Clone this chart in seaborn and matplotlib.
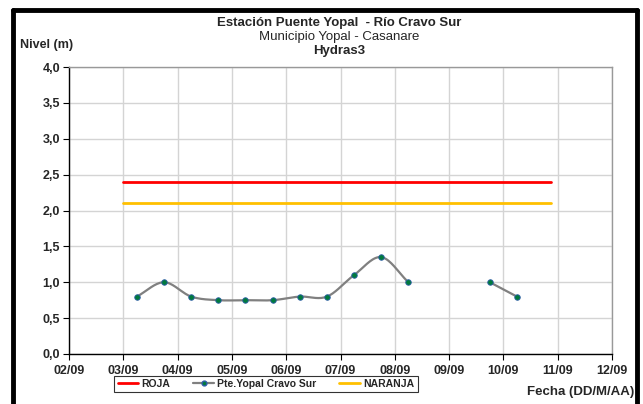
import numpy as np
import pandas as pd
import matplotlib
matplotlib.use("Agg")
import matplotlib.pyplot as plt
from matplotlib.lines import Line2D
import seaborn as sns

# Datos (Sep, dia.fraccion)
fechas = ["03/09 06:00", "03/09 18:00", "04/09 06:00", "04/09 18:00",
          "05/09 06:00", "05/09 18:00", "06/09 06:00", "06/09 18:00",
          "07/09 06:00", "07/09 18:00", "08/09 06:00", "08/09 18:00",
          "09/09 06:00", "09/09 18:00", "10/09 06:00"]
nivel = [0.80, 1.00, 0.80, 0.75, 0.75, 0.75, 0.80, 0.80,
         1.10, 1.35, 1.00, np.nan, np.nan, 1.00, 0.80]

umbral_fechas = ["03/09 00:00", "10/09 21:00"]
roja = [2.40, 2.40]
naranja = [2.10, 2.10]

xticks_lbl = ["02/09", "03/09", "04/09", "05/09", "06/09", "07/09",
              "08/09", "09/09", "10/09", "11/09", "12/09"]


def a_dias(s):
    d, h = s.split(" ")
    hh, mm = h.split(":")
    return int(d.split("/")[0]) + (int(hh) + int(mm) / 60) / 24


def suavizar(x, y, n=20):
    # curva suavizada tipo Excel (Catmull-Rom)
    x = np.asarray(x)
    y = np.asarray(y)
    if len(x) < 3:
        return x, y
    px = np.concatenate([[2 * x[0] - x[1]], x, [2 * x[-1] - x[-2]]])
    py = np.concatenate([[2 * y[0] - y[1]], y, [2 * y[-1] - y[-2]]])
    ox, oy = [], []
    t = np.linspace(0, 1, n)
    for i in range(1, len(px) - 2):
        for arr, out in ((px, ox), (py, oy)):
            p0, p1, p2, p3 = arr[i - 1], arr[i], arr[i + 1], arr[i + 2]
            out.extend(0.5 * ((2 * p1) + (-p0 + p2) * t
                              + (2 * p0 - 5 * p1 + 4 * p2 - p3) * t ** 2
                              + (-p0 + 3 * p1 - 3 * p2 + p3) * t ** 3))
    return np.array(ox), np.array(oy)


df = pd.DataFrame({"dia": [a_dias(f) for f in fechas], "nivel": nivel})
df_u = pd.DataFrame({"dia": [a_dias(f) for f in umbral_fechas],
                     "roja": roja, "naranja": naranja})

sns.set_style("white")
plt.rcParams["font.family"] = ["Liberation Sans", "DejaVu Sans"]

fig = plt.figure(figsize=(6.43, 4.04), dpi=100)
ax = fig.add_axes([69 / 643, 1 - 354 / 404, (612 - 69) / 643, (354 - 67) / 404])

# umbrales
sns.lineplot(data=df_u, x="dia", y="roja", ax=ax, color="#ff0000", lw=2, zorder=3)
sns.lineplot(data=df_u, x="dia", y="naranja", ax=ax, color="#ffc000", lw=2, zorder=3)

# serie de nivel (suavizada por tramos)
grupo = df["nivel"].isna().cumsum()
for _, tramo in df.dropna().groupby(grupo[df["nivel"].notna()]):
    sx, sy = suavizar(tramo["dia"].values, tramo["nivel"].values)
    ax.plot(sx, sy, color="#808080", lw=1.6, zorder=4)
sns.scatterplot(data=df.dropna(), x="dia", y="nivel", ax=ax, color="#007a3d",
                edgecolor="#2f5fa8", linewidth=0.6, s=16, zorder=5)

ax.set_xlim(2, 12)
ax.set_ylim(0, 4)
ax.set_xticks(range(2, 13))
ax.set_xticklabels(xticks_lbl)
ax.set_yticks(np.arange(0, 4.01, 0.5))
ax.set_yticklabels([f"{v:.1f}".replace(".", ",") for v in np.arange(0, 4.01, 0.5)])
for lbl in ax.get_xticklabels() + ax.get_yticklabels():
    lbl.set_fontweight("bold")
    lbl.set_fontsize(9)
ax.tick_params(axis="both", direction="out", length=4, width=0.8, color="black",
               bottom=True, left=True, pad=2.5)
ax.tick_params(axis="x", pad=4)
ax.grid(True, color="#d4d4d4", lw=1)
ax.set_axisbelow(True)
ax.set_xlabel("")
ax.set_ylabel("")
for s in ["top", "right"]:
    ax.spines[s].set_color("#999999")
    ax.spines[s].set_linewidth(1)
for s in ["left", "bottom"]:
    ax.spines[s].set_color("black")
    ax.spines[s].set_linewidth(1)

# titulos
fig.text(339 / 643, 1 - 23 / 404, "Estación Puente Yopal  - Río Cravo Sur",
         ha="center", va="center", fontsize=9.5, fontweight="bold")
fig.text(339 / 643, 1 - 37 / 404, "Municipio Yopal - Casanare",
         ha="center", va="center", fontsize=9.5)
fig.text(339 / 643, 1 - 51 / 404, "Hydras3",
         ha="center", va="center", fontsize=9.5, fontweight="bold")
fig.text(20 / 643, 1 - 45 / 404, "Nivel (m)", ha="left", va="center",
         fontsize=9, fontweight="bold")
fig.text(634 / 643, 1 - 392 / 404, "Fecha (DD/M/AA)", ha="right", va="center",
         fontsize=9.5, fontweight="bold")

# leyenda
handles = [
    Line2D([], [], color="#ff0000", lw=2),
    Line2D([], [], color="#808080", lw=1.6, marker="o", ms=3.5,
           markerfacecolor="#007a3d", markeredgecolor="#2f5fa8"),
    Line2D([], [], color="#ffc000", lw=2),
]
leg = fig.legend(handles, ["ROJA", "Pte.Yopal Cravo Sur", "NARANJA"], ncol=3,
                 loc="center", bbox_to_anchor=(266 / 643, 1 - 384 / 404),
                 fontsize=7.5, frameon=True, fancybox=False, edgecolor="black",
                 handlelength=2.0, handletextpad=0.3, columnspacing=2.2,
                 borderpad=0.3)
leg.get_frame().set_linewidth(0.8)
for t in leg.get_texts():
    t.set_fontweight("bold")

# marco negro exterior
for xs, ys in [([13, 13], [404, 10]), ([13, 637], [10, 10]), ([637, 637], [10, 404])]:
    fig.add_artist(Line2D([x / 643 for x in xs], [1 - y / 404 for y in ys],
                          color="black", lw=3.5, transform=fig.transFigure))

fig.savefig("out.png", dpi=100)
